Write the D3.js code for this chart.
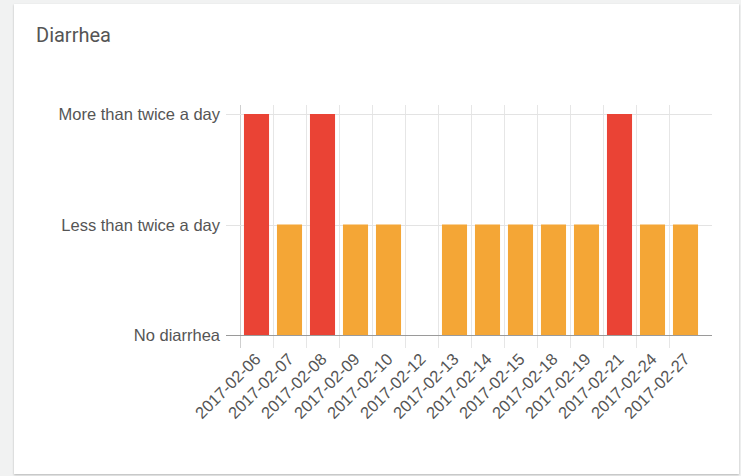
<!DOCTYPE html>
<meta charset="utf-8">
<style>
    body {
        margin: 0;
        background: #f1f2f2;
        width: 741px;
        height: 476px;
        overflow: hidden;
    }

    .card {
        position: absolute;
        left: 14px;
        top: 4px;
        width: 725px;
        height: 470px;
        background: #fff;
        box-shadow: 0 1px 2px rgba(0,0,0,0.25);
    }

    svg {
        position: absolute;
        left: 0;
        top: 0;
    }

    .title {
        font: 20px Roboto, sans-serif;
        fill: #555;
    }

    .ylab, .xlab {
        font: 16.5px "Liberation Sans", Arial, sans-serif;
        fill: #555;
    }

    .xlab {
        font-size: 16.5px;
    }
</style>
<body>
<div class="card"></div>
<script src="https://d3js.org/d3.v7.min.js"></script>
<script>
    const dates = ['2017-02-06', '2017-02-07', '2017-02-08', '2017-02-09', '2017-02-10', '2017-02-12', '2017-02-13',
        '2017-02-14', '2017-02-15', '2017-02-18', '2017-02-19', '2017-02-21', '2017-02-24', '2017-02-27'];
    const severity = [2, 1, 2, 1, 1, 0, 1, 1, 1, 1, 1, 2, 1, 1];
    const levels = ['No diarrhea', 'Less than twice a day', 'More than twice a day'];
    const levelColors = ['#f4a636', '#f4a636', '#ea4335'];

    const plotLeft = 240, plotRight = 712, plotTop = 105, plotBase = 335;

    const svg = d3.select('body')
        .append('svg')
        .attr('width', 741)
        .attr('height', 476);

    svg.append('text')
        .attr('class', 'title')
        .attr('x', 36)
        .attr('y', 42)
        .text('Diarrhea');

    const x = d3.scaleBand()
        .domain(dates)
        .range([plotLeft, plotLeft + 462])
        .paddingInner(0.24)
        .paddingOuter(0.12);

    const y = d3.scaleLinear()
        .domain([0, 2])
        .range([plotBase, 114]);

    const pad = x.step() * x.paddingOuter();

    // vertical grid (one line at the start of each category slot)
    svg.append('g')
        .selectAll('line')
        .data(dates)
        .enter().append('line')
        .attr('x1', d => x(d) - pad + 0.5)
        .attr('x2', d => x(d) - pad + 0.5)
        .attr('y1', plotTop)
        .attr('y2', 348)
        .style('stroke', (d, i) => i === 0 ? '#cfcfcf' : '#e6e6e6');

    // horizontal grid + y labels
    const yg = svg.append('g')
        .selectAll('g')
        .data(d3.range(levels.length))
        .enter().append('g')
        .attr('transform', d => 'translate(0,' + (Math.round(y(d)) + 0.5) + ')');

    yg.append('line')
        .attr('x1', 226)
        .attr('x2', plotRight)
        .style('stroke', d => d === 0 ? '#9a9a9a' : '#e3e3e3');

    yg.append('text')
        .attr('class', 'ylab')
        .attr('x', 220)
        .attr('dy', '0.35em')
        .style('text-anchor', 'end')
        .text(d => levels[d]);

    // bars
    svg.append('g')
        .selectAll('rect')
        .data(dates)
        .enter().append('rect')
        .attr('x', d => x(d))
        .attr('width', x.bandwidth())
        .attr('y', (d, i) => y(severity[i]))
        .attr('height', (d, i) => plotBase - y(severity[i]))
        .style('fill', (d, i) => levelColors[severity[i]]);

    // x labels
    svg.append('g')
        .selectAll('text')
        .data(dates)
        .enter().append('text')
        .attr('class', 'xlab')
        .attr('transform', d => 'translate(' + (x(d) + x.bandwidth() / 2 - 3) + ',352) rotate(-45)')
        .attr('dy', '0.7em')
        .style('text-anchor', 'end')
        .text(d => d);
</script>
</body>
</html>
